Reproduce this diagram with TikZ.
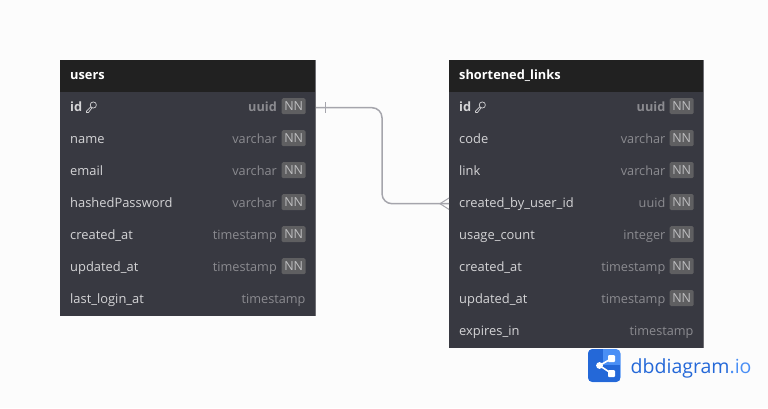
\documentclass[tikz,border=0pt]{standalone}
\usepackage{fontspec}
\setmainfont{Open Sans}
\definecolor{pagebg}{HTML}{FCFCFC}
\definecolor{headbg}{HTML}{212121}
\definecolor{bodybg}{HTML}{383941}
\definecolor{edgegr}{HTML}{6E6E73}
\definecolor{namegr}{HTML}{D4D4D6}
\definecolor{typegr}{HTML}{8B8B90}
\definecolor{nnbg}{HTML}{5F5F61}
\definecolor{nntx}{HTML}{BEBEC0}
\definecolor{linkgr}{HTML}{A5A5AC}
\definecolor{logodk}{HTML}{2468D8}
\definecolor{logolt}{HTML}{4A8FF5}
\tikzset{
  tablebox/.style={inner sep=0pt,outer sep=0pt,anchor=north west},
  title/.style={anchor=base west,inner sep=0pt,text=white,font=\fontsize{12.8}{13}\selectfont\bfseries},
  colname/.style={anchor=base west,inner sep=0pt,text=namegr,font=\fontsize{12.9}{13}\selectfont},
  pkname/.style={colname,font=\fontsize{12.8}{13}\selectfont\bfseries},
  coltype/.style={anchor=base east,inner sep=0pt,text=typegr,font=\fontsize{12.7}{13}\selectfont},
  pktype/.style={coltype,font=\fontsize{12.7}{13}\selectfont\bfseries},
  nnbadge/.style={anchor=center,fill=nnbg,rounded corners=1.5pt,inner sep=0pt,minimum width=24pt,minimum height=16pt,text=nntx,font=\fontsize{12.5}{12.5}\selectfont},
  pics/keyicon/.style={code={
    \draw[namegr,line width=0.7pt] (1.8,-2) circle (3.1);
    \draw[namegr,line width=0.7pt] (-0.6,-0.4) -- (-5,4.2) -- (-5,5.4) -- (-3,5.4) -- (0.4,1);
  }}
}
\begin{document}
\begin{tikzpicture}[x=1pt,y=-1pt,line cap=round,line join=round]
  \useasboundingbox (0,0) rectangle (768,408);
  \fill[pagebg] (0,0) rectangle (768,408);
  % users table
  \node[tablebox,fill=bodybg,minimum width=255.6pt,minimum height=256pt] (users) at (60,60) {};
  \node[tablebox,fill=headbg,minimum width=255.6pt,minimum height=32pt] (usershead) at (60,60) {};
  \draw[edgegr,line cap=butt] (users.north east) -- (users.south east);
  \node[title] (userstitle) at (70,79) {users};
  \node[pkname] (uidname) at (70,111) {id};
  \pic at (91.5,107) {keyicon};
  \node[pktype] (uidtype) at (277,111) {uuid};
  \node[nnbadge] (uidnn) at (293.7,106.2) {NN};
  \node[colname] (unamename) at (70,143) {name};
  \node[coltype] (unametype) at (277,143) {varchar};
  \node[nnbadge] (unamenn) at (293.7,138.2) {NN};
  \node[colname] (uemailname) at (70,175) {email};
  \node[coltype] (uemailtype) at (277,175) {varchar};
  \node[nnbadge] (uemailnn) at (293.7,170.2) {NN};
  \node[colname] (uhashname) at (70,207) {hashedPassword};
  \node[coltype] (uhashtype) at (277,207) {varchar};
  \node[nnbadge] (uhashnn) at (293.7,202.2) {NN};
  \node[colname] (ucreatedname) at (70,239) {created\_at};
  \node[coltype] (ucreatedtype) at (277,239) {timestamp};
  \node[nnbadge] (ucreatednn) at (293.7,234.2) {NN};
  \node[colname] (uupdatedname) at (70,271) {updated\_at};
  \node[coltype] (uupdatedtype) at (277,271) {timestamp};
  \node[nnbadge] (uupdatednn) at (293.7,266.2) {NN};
  \node[colname] (uloginname) at (70,303) {last\_login\_at};
  \node[coltype] (ulogintype) at (305.7,303) {timestamp};
  % shortened_links table
  \node[tablebox,fill=bodybg,minimum width=254.3pt,minimum height=288pt] (links) at (449,60) {};
  \node[tablebox,fill=headbg,minimum width=254.3pt,minimum height=32pt] (linkshead) at (449,60) {};
  \draw[edgegr,line cap=butt] (links.north east) -- (links.south east);
  \node[title] (linkstitle) at (459,79) {shortened\_links};
  \node[pkname] (lidname) at (459,111) {id};
  \pic at (480.5,107) {keyicon};
  \node[pktype] (lidtype) at (665.5,111) {uuid};
  \node[nnbadge] (lidnn) at (681.7,106.2) {NN};
  \node[colname] (lcodename) at (459,143) {code};
  \node[coltype] (lcodetype) at (665.5,143) {varchar};
  \node[nnbadge] (lcodenn) at (681.7,138.2) {NN};
  \node[colname] (llinkname) at (459,175) {link};
  \node[coltype] (llinktype) at (665.5,175) {varchar};
  \node[nnbadge] (llinknn) at (681.7,170.2) {NN};
  \node[colname] (lbyname) at (459,207) {created\_by\_user\_id};
  \node[coltype] (lbytype) at (665.5,207) {uuid};
  \node[nnbadge] (lbynn) at (681.7,202.2) {NN};
  \node[colname] (lusagename) at (459,239) {usage\_count};
  \node[coltype] (lusagetype) at (665.5,239) {integer};
  \node[nnbadge] (lusagenn) at (681.7,234.2) {NN};
  \node[colname] (lcreatedname) at (459,271) {created\_at};
  \node[coltype] (lcreatedtype) at (665.5,271) {timestamp};
  \node[nnbadge] (lcreatednn) at (681.7,266.2) {NN};
  \node[colname] (lupdatedname) at (459,303) {updated\_at};
  \node[coltype] (lupdatedtype) at (665.5,303) {timestamp};
  \node[nnbadge] (lupdatednn) at (681.7,298.2) {NN};
  \node[colname] (lexpiresname) at (459,335) {expires\_in};
  \node[coltype] (lexpirestype) at (693.7,335) {timestamp};
  % relation
  \coordinate (fromid) at (316,107.7);
  \coordinate (tobyuser) at (449,203.7);
  \coordinate (crowtip) at (440,203.7);
  \draw[linkgr,line width=1.5pt,line cap=butt,rounded corners=10pt] (fromid) -| (382,150) |- (tobyuser);
  \draw[linkgr,line width=0.8pt,line cap=butt] (325.7,102) -- (325.7,113);
  \draw[linkgr,line width=1pt,line cap=butt] (449,198) -- (crowtip) -- (449,209.4);
  % logo
  \fill[logolt,rounded corners=4.5pt] (588,349) rectangle (620.5,382);
  \begin{scope}
    \clip[rounded corners=4.5pt] (588,349) rectangle (620.5,382);
    \fill[logodk] (588,349) rectangle (603,382);
    \fill[logodk] (603,364.5) rectangle (620.5,382);
  \end{scope}
  \draw[white,line width=1.6pt] (611.5,358.5) -- (599.5,365.5) -- (611.5,373.5);
  \fill[white] (599.5,365.5) circle (3.4);
  \fill[white,rounded corners=1pt] (608,355) rectangle (615,362);
  \fill[white,rounded corners=1pt] (608,370) rectangle (615,377);
  \node[anchor=base west,inner sep=0pt,font=\fontsize{19.5}{20}\selectfont] (logotext) at (630.5,373) {\textcolor{logodk}{dbdiagram}\textcolor{logolt}{.io}};
\end{tikzpicture}
\end{document}
